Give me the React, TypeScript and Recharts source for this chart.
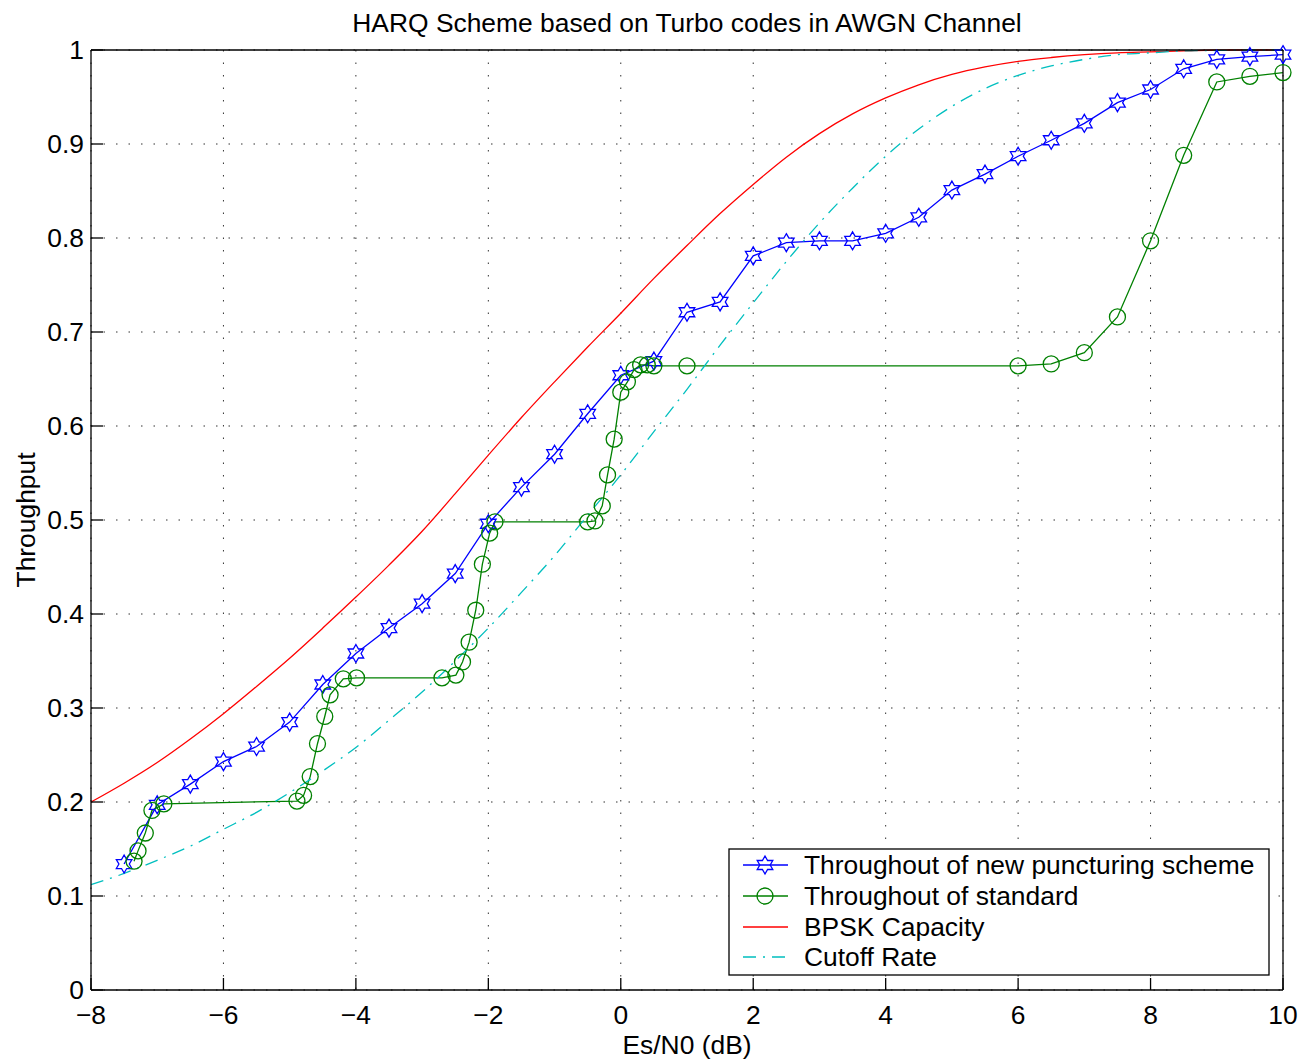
import { LineChart, Line, XAxis, YAxis, CartesianGrid, Label } from "recharts";

// Es/N0 points of the new puncturing scheme
const newSnr = [
  -7.5, -7, -6.5, -6, -5.5, -5, -4.5, -4, -3.5, -3, -2.5, -2, -1.5, -1, -0.5, 0, 0.5, 1,
  1.5, 2, 2.5, 3, 3.5, 4, 4.5, 5, 5.5, 6, 6.5, 7, 7.5, 8, 8.5, 9, 9.5, 10,
];
const newThroughput = [
  0.134, 0.197, 0.219, 0.243, 0.259, 0.285, 0.325, 0.358, 0.385, 0.411, 0.443, 0.496, 0.535,
  0.57, 0.613, 0.654, 0.669, 0.721, 0.732, 0.781, 0.795, 0.797, 0.797, 0.805, 0.822, 0.851,
  0.868, 0.887, 0.904, 0.922, 0.944, 0.958, 0.98, 0.99, 0.993, 0.995,
];

// standard scheme
const stdSnr = [
  -7.35, -7.29, -7.18, -7.08, -6.9, -4.89, -4.79, -4.69, -4.58, -4.47, -4.39, -4.19, -3.99,
  -2.7, -2.49, -2.39, -2.29, -2.19, -2.09, -1.98, -1.9, -0.5, -0.39, -0.28, -0.2, -0.1, 0,
  0.1, 0.2, 0.3, 0.4, 0.5, 1, 6, 6.5, 7, 7.5, 8, 8.5, 9, 9.5, 10,
];
const stdThroughput = [
  0.137, 0.148, 0.167, 0.191, 0.198, 0.201, 0.207, 0.227, 0.262, 0.291, 0.314, 0.331, 0.332,
  0.332, 0.335, 0.349, 0.37, 0.404, 0.453, 0.486, 0.498, 0.498, 0.499, 0.515, 0.548, 0.586,
  0.636, 0.647, 0.66, 0.665, 0.665, 0.664, 0.664, 0.664, 0.666, 0.678, 0.716, 0.797, 0.888,
  0.966, 0.972, 0.976,
];

// reference curves
const boundSnr = [
  -8, -7.5, -7, -6.5, -6, -5.5, -5, -4.5, -4, -3.5, -3, -2.5, -2, -1.5, -1, -0.5, 0, 0.5, 1,
  1.5, 2, 2.5, 3, 3.5, 4, 4.5, 5, 5.5, 6, 6.5, 7, 7.5, 8, 8.5, 9, 9.5, 10,
];
const bpskCapacity = [
  0.2, 0.22, 0.242, 0.267, 0.294, 0.323, 0.353, 0.385, 0.418, 0.452, 0.488, 0.528, 0.569,
  0.609, 0.647, 0.684, 0.72, 0.757, 0.792, 0.826, 0.857, 0.886, 0.911, 0.932, 0.949, 0.963,
  0.974, 0.982, 0.988, 0.992, 0.995, 0.997, 0.998, 0.999, 1, 1, 1,
];
const cutoffRate = [
  0.112, 0.124, 0.138, 0.153, 0.171, 0.189, 0.21, 0.233, 0.258, 0.287, 0.317, 0.35, 0.385,
  0.423, 0.462, 0.505, 0.548, 0.594, 0.639, 0.686, 0.731, 0.775, 0.816, 0.853, 0.887, 0.916,
  0.94, 0.959, 0.973, 0.983, 0.99, 0.995, 0.997, 0.999, 0.9995, 1, 1,
];

const xTicks = [-8, -6, -4, -2, 0, 2, 4, 6, 8, 10];
const yTicks = [0, 0.1, 0.2, 0.3, 0.4, 0.5, 0.6, 0.7, 0.8, 0.9, 1];

const legendLabels = [
  "Throughout of new puncturing scheme",
  "Throughout of standard",
  "BPSK Capacity",
  "Cutoff Rate",
];

const FONT = "'Liberation Sans', Arial, Helvetica, sans-serif";
const BLUE = "#0000ff";
const GREEN = "#008000";
const RED = "#ff0000";
const CYAN = "#00bfbf";
const CUTOFF_DASH = "13 7 2 7";

const zip = (xs: number[], ys: number[]) => xs.map((x, i) => ({ x, y: ys[i] }));

const newData = zip(newSnr, newThroughput);
const stdData = zip(stdSnr, stdThroughput);
const capData = zip(boundSnr, bpskCapacity);
const cutData = zip(boundSnr, cutoffRate);

function starPath(cx: number, cy: number, R: number) {
  const r = R / Math.sqrt(3);
  let d = "";
  for (let i = 0; i < 12; i++) {
    const a = -Math.PI / 2 + (i * Math.PI) / 6;
    const rad = i % 2 === 0 ? R : r;
    d += (i === 0 ? "M" : "L") + (cx + rad * Math.cos(a)).toFixed(2) + "," + (cy + rad * Math.sin(a)).toFixed(2);
  }
  return d + "Z";
}

const StarDot = (props: any) => {
  const { cx, cy, index } = props;
  if (cx == null || cy == null) return <g key={`s-${index}`} />;
  return <path key={`s-${index}`} d={starPath(cx, cy, 9)} fill="none" stroke={BLUE} strokeWidth={1.3} />;
};

const EmptyTick = () => <g />;

const fmtX = (v: number) => (v < 0 ? `\u2212${-v}` : `${v}`);
const fmtY = (v: number) => (v === 0 || v === 1 ? `${v}` : v.toFixed(1));

function ChartLegend() {
  const rowY = [17, 48, 79, 109];
  return (
    <svg
      width={542}
      height={128}
      style={{ position: "absolute", left: 728, top: 848, fontFamily: FONT }}
    >
      <rect x={1} y={1} width={540} height={126} fill="#fff" stroke="#000" strokeWidth={1.3} />
      <line x1={15} x2={60} y1={rowY[0]} y2={rowY[0]} stroke={BLUE} strokeWidth={1.3} />
      <path d={starPath(37, rowY[0], 9)} fill="none" stroke={BLUE} strokeWidth={1.3} />
      <line x1={15} x2={60} y1={rowY[1]} y2={rowY[1]} stroke={GREEN} strokeWidth={1.3} />
      <circle cx={37} cy={rowY[1]} r={8} fill="none" stroke={GREEN} strokeWidth={1.3} />
      <line x1={15} x2={60} y1={rowY[2]} y2={rowY[2]} stroke={RED} strokeWidth={1.3} />
      <line x1={15} x2={60} y1={rowY[3]} y2={rowY[3]} stroke={CYAN} strokeWidth={1.3} strokeDasharray={CUTOFF_DASH} />
      {legendLabels.map((t, i) => (
        <text key={t} x={76} y={rowY[i] + 9} fontSize={26.4} fill="#000">
          {t}
        </text>
      ))}
    </svg>
  );
}

export default function App() {
  return (
    <div style={{ position: "absolute", left: 0, top: 0, width: 1302, height: 1063, background: "#fff" }}>
      <LineChart
        width={1302}
        height={1063}
        margin={{ top: 49, right: 18, bottom: 72, left: 90 }}
        style={{ fontFamily: FONT }}
      >
        <CartesianGrid stroke="#333" strokeDasharray="1.5 11" strokeWidth={1} />
        <XAxis
          dataKey="x"
          type="number"
          domain={[-8, 10]}
          ticks={xTicks}
          interval={0}
          height={1}
          tickSize={-12}
          tickMargin={27}
          tickFormatter={fmtX}
          tick={{ fill: "#000", fontSize: 26.4 }}
          stroke="#000"
          strokeWidth={1.3}
        >
          <Label value="Es/N0 (dB)" position="bottom" offset={44} fill="#000" fontSize={26.4} />
        </XAxis>
        <XAxis
          xAxisId="top"
          orientation="top"
          type="number"
          domain={[-8, 10]}
          ticks={xTicks}
          interval={0}
          height={1}
          tickSize={-12}
          tick={EmptyTick}
          stroke="#000"
          strokeWidth={1.3}
        >
          <Label
            value="HARQ Scheme based on Turbo codes in AWGN Channel"
            position="top"
            offset={17}
            fill="#000"
            fontSize={26.4}
          />
        </XAxis>
        <YAxis
          type="number"
          domain={[0, 1]}
          ticks={yTicks}
          interval={0}
          width={1}
          tickSize={-12}
          tickMargin={19}
          tickFormatter={fmtY}
          tick={{ fill: "#000", fontSize: 26.4 }}
          stroke="#000"
          strokeWidth={1.3}
        >
          <Label
            content={(p: any) => {
              const vb = p.viewBox || { x: 90, y: 50, height: 940 };
              return (
                <text
                  transform={`translate(${vb.x - 55}, ${vb.y + vb.height / 2}) rotate(-90)`}
                  textAnchor="middle"
                  fontSize={26.4}
                  fill="#000"
                  fontFamily={FONT}
                >
                  Throughput
                </text>
              );
            }}
          />
        </YAxis>
        <YAxis
          yAxisId="right"
          orientation="right"
          type="number"
          domain={[0, 1]}
          ticks={yTicks}
          interval={0}
          width={1}
          tickSize={-12}
          tick={EmptyTick}
          stroke="#000"
          strokeWidth={1.3}
        />
        <Line
          data={newData}
          dataKey="y"
          type="linear"
          stroke={BLUE}
          strokeWidth={1.3}
          dot={StarDot}
          isAnimationActive={false}
        />
        <Line
          data={stdData}
          dataKey="y"
          type="linear"
          stroke={GREEN}
          strokeWidth={1.3}
          dot={{ r: 8, fill: "none", stroke: GREEN, strokeWidth: 1.3 }}
          isAnimationActive={false}
        />
        <Line
          data={capData}
          dataKey="y"
          type="monotone"
          stroke={RED}
          strokeWidth={1.3}
          dot={false}
          isAnimationActive={false}
        />
        <Line
          data={cutData}
          dataKey="y"
          type="monotone"
          stroke={CYAN}
          strokeWidth={1.3}
          strokeDasharray={CUTOFF_DASH}
          dot={false}
          isAnimationActive={false}
        />
      </LineChart>
      <ChartLegend />
    </div>
  );
}
